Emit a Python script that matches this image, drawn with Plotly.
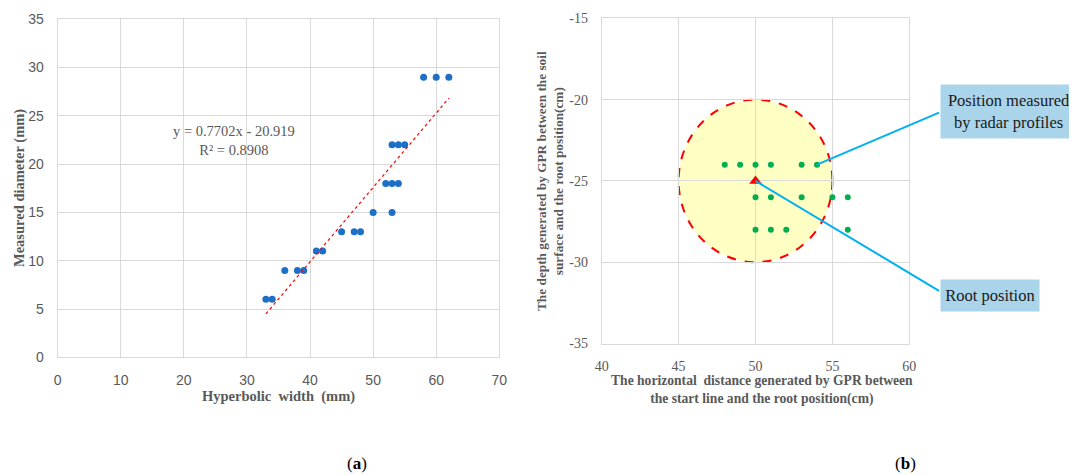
import plotly.graph_objects as go

# Reference canvas size and page body offset (browser default body margin)
W, H = 1077, 475
OFF = 8
FW, FH = W - OFF, H - OFF

# ---- Data: panel (a) ----
hyper_width = [33, 34, 36, 38, 39, 41, 42, 45, 47, 48, 50, 53, 52, 53, 54, 53, 54, 55, 58, 60, 62]
measured_diam = [6, 6, 9, 9, 9, 11, 11, 13, 13, 13, 15, 15, 18, 18, 18, 22, 22, 22, 29, 29, 29]
slope = 0.7702
intercept = -20.919
r_squared = 0.8908
trend_x = [33, 62]
trend_y = [slope * v + intercept for v in trend_x]
xticks_a = [0, 10, 20, 30, 40, 50, 60, 70]
yticks_a = [0, 5, 10, 15, 20, 25, 30, 35]

# ---- Data: panel (b) ----
radar_x = [48, 49, 50, 51, 53, 54, 50, 51, 53, 55, 56, 50, 51, 52, 56]
radar_y = [-24, -24, -24, -24, -24, -24, -26, -26, -26, -26, -26, -28, -28, -28, -28]
root_x = [50]
root_y = [-25]
circle_center = (50, -25)
circle_radius = 5
xticks_b = [40, 45, 50, 55, 60]
yticks_b = [-35, -30, -25, -20, -15]

# ---- layout helpers (reference pixel -> paper) ----
def px(xp):
    return (xp - OFF) / FW

def py(yp):
    return 1 - (yp - OFF) / FH

# panel b plot box in reference pixels
B_L, B_R, B_T, B_B = 601.7, 909.3, 18.3, 343.5
def bx(xp):
    return 40 + (xp - B_L) / (B_R - B_L) * 20
def by(yp):
    return -15 - (yp - B_T) / (B_B - B_T) * 20

GRID = "#D9D9D9"
TXT = "#595959"
SERIF = "Liberation Serif, Times New Roman, serif"
SANS = "Liberation Sans, Arial, sans-serif"

fig = go.Figure()

fig.add_trace(go.Scatter(
    x=hyper_width, y=measured_diam, mode="markers",
    marker=dict(color="#1E6FC8", size=7), xaxis="x", yaxis="y", showlegend=False))
fig.add_trace(go.Scatter(
    x=trend_x, y=trend_y, mode="lines",
    line=dict(color="#FF0000", width=1.2, dash="dot"), xaxis="x", yaxis="y", showlegend=False))

fig.add_trace(go.Scatter(
    x=radar_x, y=radar_y, mode="markers",
    marker=dict(color="#00B050", size=6), xaxis="x2", yaxis="y2", showlegend=False))
fig.add_trace(go.Scatter(
    x=root_x, y=root_y, mode="markers",
    marker=dict(color="#FF0000", size=11, symbol="triangle-up"), xaxis="x2", yaxis="y2", showlegend=False))

cx, cy = circle_center
shapes = [
    dict(type="circle", xref="x2", yref="y2",
         x0=cx - circle_radius, x1=cx + circle_radius,
         y0=cy - circle_radius, y1=cy + circle_radius,
         fillcolor="#FFFFC4", line=dict(color="#FF0000", width=2, dash="dash"), layer="below"),
    dict(type="line", xref="x2", yref="paper", x0=50, x1=50,
         y0=py(B_B), y1=py(B_T), line=dict(color="#A6A6A6", width=1), layer="between"),
]

axis_common = dict(showgrid=True, gridcolor=GRID, gridwidth=1, zeroline=False,
                   showline=True, linecolor=GRID, linewidth=1, mirror=True,
                   ticks="", ticklabelstandoff=10, automargin=False, tickmode="array")

def note(text, x, y, size, color=TXT, angle=0, **kw):
    return dict(text=text, x=px(x), y=py(y), xref="paper", yref="paper",
                xanchor="center", yanchor="middle", textangle=angle, showarrow=False,
                align="center", font=dict(family=SERIF, size=size, color=color), **kw)

annotations = [
    # panel a titles
    note("<b>Measured diameter (mm)</b>", 19, 188, 14.5, angle=-90),
    note("<b>Hyperbolic\u00a0\u00a0width\u00a0\u00a0(mm)</b>", 278, 396, 14.5),
    note(f"y = {slope}x - {abs(intercept)}<br>R² = {r_squared}", 234, 141, 14.5),
    # panel b titles
    note("<b>The depth generated by GPR between the soil<br>surface and the root position(cm)</b>",
         550, 181, 13.3, angle=-90),
    note("<b>The horizontal\u00a0\u00a0distance generated by GPR between<br>the start line and the root position(cm)</b>",
         762, 389.5, 13.6),
    # captions
    note("(<b>a</b>)", 357, 463, 17, color="#000000"),
    note("(<b>b</b>)", 905, 463, 17, color="#000000"),
    # callout boxes
    note("Position measured<br>by radar profiles", 1009, 111.5, 16.5, color="#1a1a1a",
         bgcolor="#AAD4EA", width=132, height=49, borderpad=2),
    note("Root position", 990, 295.5, 16.5, color="#1a1a1a",
         bgcolor="#AAD4EA", width=94, height=27, borderpad=2),
    # connectors
    dict(text="", x=radar_x[5], y=radar_y[5], xref="x2", yref="y2",
         ax=bx(940.5), ay=by(112), axref="x2", ayref="y2", showarrow=True,
         arrowhead=0, arrowwidth=2, arrowcolor="#00B0F0", standoff=0, startstandoff=0),
    dict(text="", x=root_x[0], y=root_y[0], xref="x2", yref="y2",
         ax=bx(940.5), ay=by(291.7), axref="x2", ayref="y2", showarrow=True,
         arrowhead=0, arrowwidth=2, arrowcolor="#00B0F0", standoff=0, startstandoff=0),
]

fig.update_layout(
    width=FW, height=FH, autosize=False,
    margin=dict(l=0, r=0, t=0, b=0, pad=0),
    paper_bgcolor="white", plot_bgcolor="white",
    showlegend=False,
    xaxis=dict(domain=[px(57.7), px(499.3)], range=[0, 70], anchor="y",
               tickvals=xticks_a, ticktext=[str(v) for v in xticks_a],
               tickfont=dict(family=SANS, size=14, color=TXT), **axis_common),
    yaxis=dict(domain=[py(357.3), py(19.3)], range=[0, 35], anchor="x",
               tickvals=yticks_a, ticktext=[str(v) for v in yticks_a],
               tickfont=dict(family=SANS, size=14, color=TXT), **axis_common),
    xaxis2=dict(domain=[px(B_L), px(B_R)], range=[40, 60], anchor="y2",
                tickvals=xticks_b, ticktext=[str(v) for v in xticks_b],
                tickfont=dict(family=SERIF, size=14, color=TXT), **axis_common),
    yaxis2=dict(domain=[py(B_B), py(B_T)], range=[-35, -15], anchor="x2",
                tickvals=yticks_b, ticktext=[str(v) for v in yticks_b],
                tickfont=dict(family=SERIF, size=14, color=TXT), **axis_common),
    shapes=shapes,
    annotations=annotations,
)

fig.write_html("out.html")
